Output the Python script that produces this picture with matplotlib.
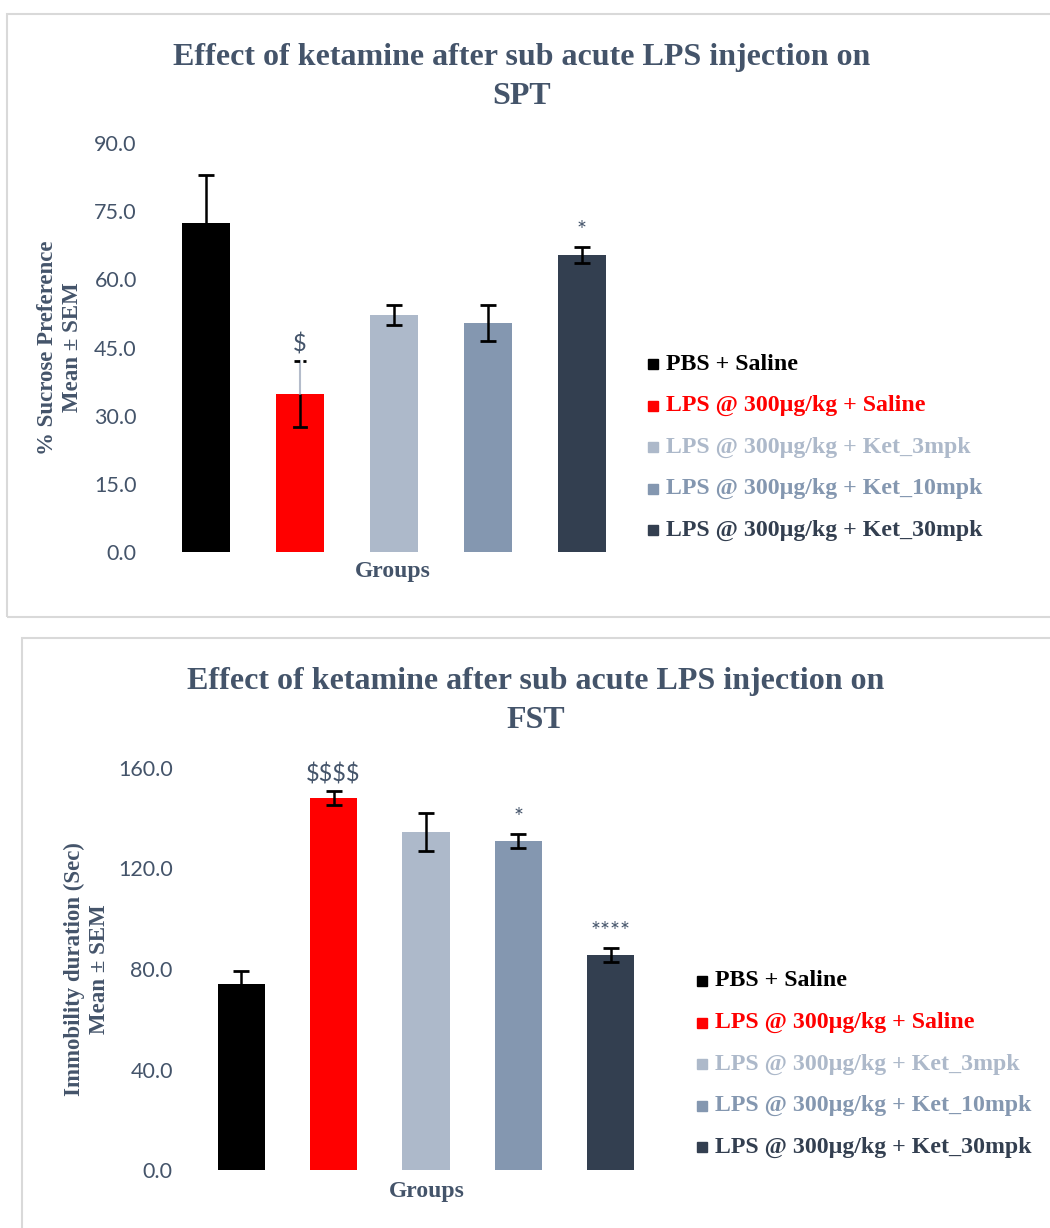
import matplotlib.pyplot as plt
from matplotlib.patches import Rectangle

plt.rcParams['text.parse_math'] = False

groups = ['PBS + Saline', 'LPS @ 300µg/kg + Saline', 'LPS @ 300µg/kg + Ket_3mpk',
          'LPS @ 300µg/kg + Ket_10mpk', 'LPS @ 300µg/kg + Ket_30mpk']
colors = ['#000000', '#ff0000', '#adb9ca', '#8497b0', '#333f50']

spt_mean = [72.4, 34.8, 52.2, 50.4, 65.4]
spt_sem = [10.6, 7.2, 2.2, 4.0, 1.8]
spt_marks = ['', '$', '', '', '*']

fst_mean = [74.0, 148.1, 134.5, 130.9, 85.6]
fst_sem = [5.2, 2.8, 7.5, 2.8, 2.8]
fst_marks = ['', '$$$$', '', '*', '****']

W, H = 1050, 1228
txt = '#44546a'
serif = 'Liberation Serif'
sans = 'Lato'

fig = plt.figure(figsize=(W / 100, H / 100), dpi=100)

def fx(px):
    return px / W

def fy(py):
    return 1 - py / H

# panel borders
fig.patches.append(Rectangle((fx(7), fy(617)), fx(1060 - 7), fy(14) - fy(617),
                             transform=fig.transFigure, fill=False, ec='#d9d9d9', lw=1.5))
fig.patches.append(Rectangle((fx(22), fy(1240)), fx(1060 - 22), fy(638) - fy(1240),
                             transform=fig.transFigure, fill=False, ec='#d9d9d9', lw=1.5))


def panel(rect, means, sems, marks, ymax, ystep, title, ylabel, title_xy, ylab_x, groups_xy,
          leg_x, leg_y0, tickpad):
    ax = fig.add_axes(rect)
    x = list(range(len(means)))
    ax.bar(x, means, width=0.51, color=colors, zorder=2)
    for i in x:
        if i == 1 and marks is spt_marks:
            # excel artefact: upper part of this error bar drawn faint
            ax.plot([i, i], [means[i], means[i] + sems[i]], color='#b4bccb', lw=1.5, zorder=3)
            ax.plot([i - 0.06, i + 0.06], [means[i] + sems[i]] * 2, color='black', lw=2,
                    ls=(0, (2, 1.2)), zorder=3)
            ax.errorbar(i, means[i] - sems[i] / 2, yerr=sems[i] / 2, fmt='none', ecolor='black',
                        elinewidth=1.8, capsize=0, zorder=3)
            ax.plot([i - 0.06, i + 0.06], [means[i] - sems[i]] * 2, color='black', lw=2, zorder=3)
        else:
            ax.errorbar(i, means[i], yerr=sems[i], fmt='none', ecolor='black',
                        elinewidth=1.8, capsize=6, capthick=2, zorder=3)
        if marks[i]:
            ax.annotate(marks[i], (i, means[i] + sems[i]), xytext=(0, 7),
                        textcoords='offset points', ha='center', va='baseline',
                        color=txt, fontsize=17, family=sans)
    ax.set_xlim(-0.5, len(means) - 0.5)
    ax.set_ylim(0, ymax)
    ticks = [ystep * k for k in range(int(round(ymax / ystep)) + 1)]
    ax.set_yticks(ticks)
    ax.set_yticklabels([f'{t:.1f}' for t in ticks], family=sans, fontsize=15.5, color=txt)
    ax.tick_params(axis='y', length=0, pad=tickpad)
    ax.set_xticks([])
    for s in ax.spines.values():
        s.set_visible(False)
    fig.text(fx(title_xy[0]), fy(title_xy[1]), title, ha='center', va='center',
             family=serif, weight='bold', fontsize=23, color=txt, linespacing=1.42)
    fig.text(fx(ylab_x), rect[1] + rect[3] / 2, ylabel, ha='center', va='center', rotation=90,
             family=serif, weight='bold', fontsize=16.5, color=txt, linespacing=1.2)
    fig.text(fx(groups_xy[0]), fy(groups_xy[1]), 'Groups', ha='center', va='center',
             family=serif, weight='bold', fontsize=17, color=txt)
    for k, g in enumerate(groups):
        yy = fy(leg_y0 + 41.5 * k)
        fig.patches.append(Rectangle((fx(leg_x), yy - 5 / H), 10 / W, 10 / H,
                                     transform=fig.transFigure, color=colors[k]))
        fig.text(fx(leg_x + 18), yy, g, ha='left', va='center', family=serif,
                 weight='bold', fontsize=17.2, color=colors[k])
    return ax


panel([fx(159), fy(552), fx(470), fy(143) - fy(552)], spt_mean, spt_sem, spt_marks,
      90, 15, 'Effect of ketamine after sub acute LPS injection on\nSPT',
      '% Sucrose Preference\nMean ± SEM', (522, 77), 60, (393, 572), 648, 364, 16)
panel([fx(195), fy(1170), fx(462), fy(768) - fy(1170)], fst_mean, fst_sem, fst_marks,
      160, 40, 'Effect of ketamine after sub acute LPS injection on\nFST',
      'Immobility duration (Sec)\nMean ± SEM', (536, 701), 87, (427, 1192), 697, 981, 16)

fig.savefig('out.png', dpi=100)
